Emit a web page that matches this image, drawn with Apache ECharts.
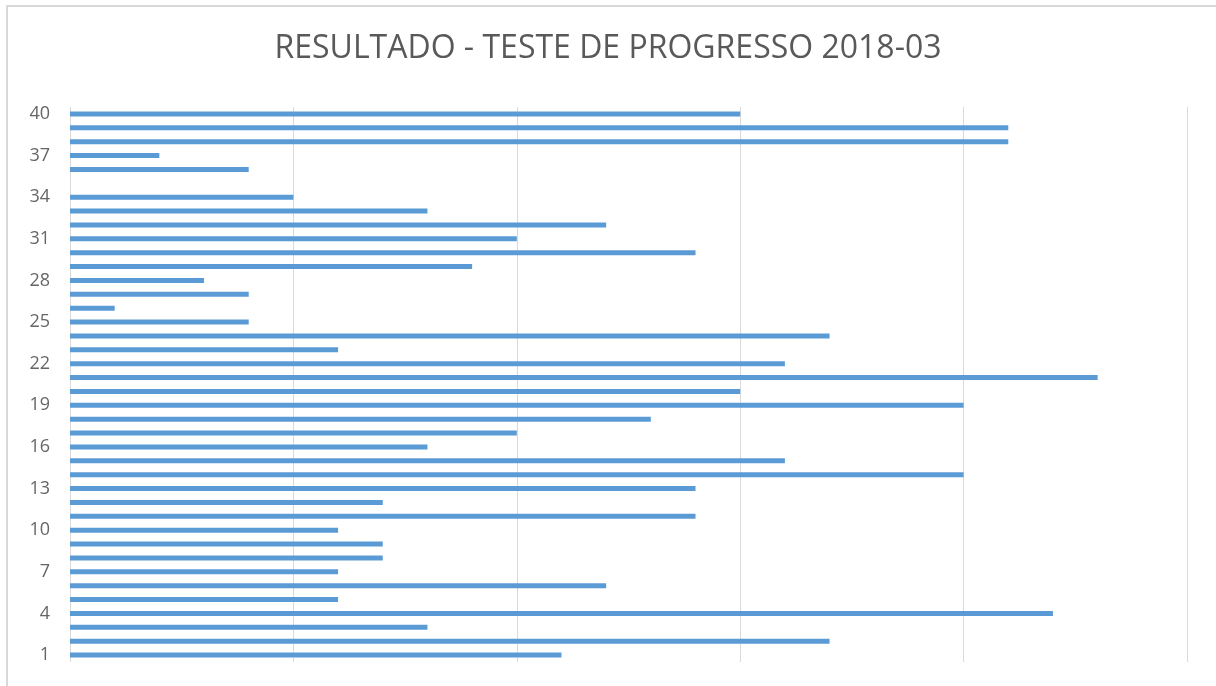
<!DOCTYPE html>
<html>
<head>
<meta charset="utf-8">
<script src="https://cdn.jsdelivr.net/npm/echarts@6/dist/echarts.min.js"></script>
<style>
	html, body { margin: 0; padding: 0; background: #fff; }
	#chart { width: 1216px; height: 686px; }
</style>
</head>
<body>
<div id="chart"></div>
<script>
// questões 1..40
var questions = [];
for (var q = 1; q <= 40; q++) questions.push(String(q));

// acertos por questão
var hits = [
	11, 17, 8, 22, 6, 12, 6, 7, 7, 6,
	14, 7, 14, 20, 16, 8, 10, 13, 20, 15,
	23, 16, 6, 17, 4, 1, 4, 3, 9, 14,
	10, 12, 8, 5, 0, 4, 2, 21, 21, 15
];

var chart = echarts.init(document.getElementById('chart'));

var option = {
	animation: false,
	backgroundColor: '#fff',
	title: {
		text: 'RESULTADO - TESTE DE PROGRESSO 2018-03',
		left: 'center',
		top: 28,
		textStyle: {
			fontFamily: 'Open Sans',
			fontSize: 32,
			fontWeight: 'normal',
			color: '#595959'
		}
	},
	graphic: [{
		type: 'rect',
		shape: { x: 7, y: 6, width: 1220, height: 700 },
		style: { fill: 'none', stroke: '#d9d9d9', lineWidth: 2 },
		silent: true
	}],
	grid: {
		left: 70,
		right: 29,
		top: 107,
		bottom: 24
	},
	xAxis: {
		type: 'value',
		min: 0,
		max: 25,
		interval: 5,
		axisLabel: { show: false },
		axisLine: { show: false },
		axisTick: { show: false },
		splitLine: { lineStyle: { color: '#d9d9d9', width: 1 } }
	},
	yAxis: {
		type: 'category',
		data: questions,
		axisLine: { show: false },
		axisTick: { show: false },
		axisLabel: {
			interval: 2,
			margin: 20,
			fontFamily: 'Open Sans',
			fontSize: 18,
			color: '#666666'
		}
	},
	series: [{
		type: 'bar',
		data: hits,
		barWidth: 5,
		itemStyle: { color: '#5b9bd5' }
	}]
};

chart.setOption(option);
</script>
</body>
</html>
